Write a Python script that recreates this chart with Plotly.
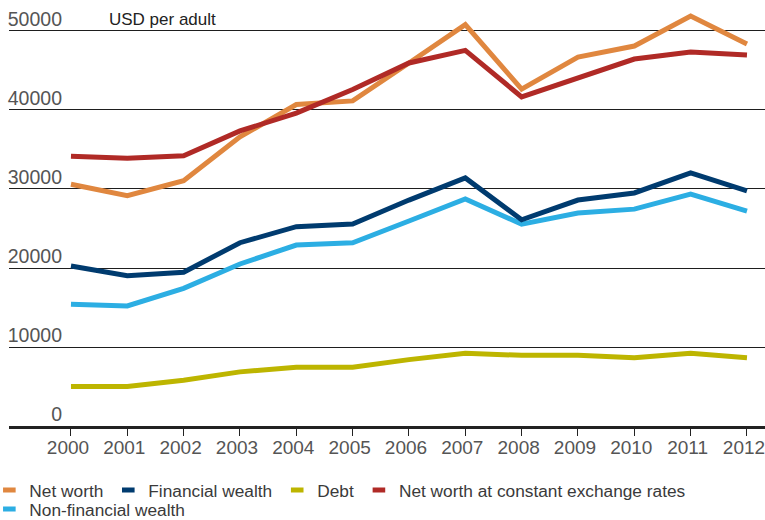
import plotly.graph_objects as go

years = list(range(2000, 2013))
net_worth = [30600, 29150, 31050, 36600, 40700, 41150, 45950, 50800, 42650, 46700, 48100, 51900, 48350]
net_worth_const = [34150, 33900, 34200, 37350, 39600, 42600, 45950, 47550, 41650, 44050, 46450, 47350, 46950]
financial = [20250, 19030, 19460, 23200, 25230, 25570, 28600, 31400, 26100, 28600, 29500, 32050, 29750]
non_financial = [15400, 15190, 17430, 20510, 22910, 23200, 25950, 28750, 25550, 26950, 27450, 29350, 27200]
debt = [5000, 5000, 5800, 6850, 7450, 7450, 8400, 9200, 8950, 8950, 8650, 9200, 8650]
y_ticks = [0, 10000, 20000, 30000, 40000, 50000]

C_NET = "#E0873F"
C_FIN = "#003B6F"
C_DEBT = "#BDB500"
C_CONST = "#B02A26"
C_NONFIN = "#2CAEE3"

legend_items = [
    ("Net worth", C_NET, "legend"),
    ("Financial wealth", C_FIN, "legend"),
    ("Debt", C_DEBT, "legend"),
    ("Net worth at constant exchange rates", C_CONST, "legend"),
    ("Non-financial wealth", C_NONFIN, "legend2"),
]

fig = go.Figure()

# legend-only entries (short dash symbols)
for name, col, lg in legend_items:
    fig.add_trace(go.Scatter(
        x=[None], y=[None], mode="markers", name=name, legend=lg,
        marker=dict(symbol="line-ew", size=9, color=col, line=dict(width=5, color=col)),
        showlegend=True, hoverinfo="skip"))

series = [
    (debt, C_DEBT),
    (non_financial, C_NONFIN),
    (financial, C_FIN),
    (net_worth, C_NET),
    (net_worth_const, C_CONST),
]
for vals, col in series:
    fig.add_trace(go.Scatter(
        x=years, y=vals, mode="lines", showlegend=False,
        line=dict(color=col, width=5)))

FONT = "Liberation Sans, Arial, sans-serif"
LEG_FONT = dict(family=FONT, size=17.3, color="#3a3a3a")
TICK_FONT = dict(family=FONT, size=19, color="#555555")

fig.update_layout(
    width=765, height=520,
    margin=dict(l=9, r=0, t=5, b=94, autoexpand=False),
    paper_bgcolor="white", plot_bgcolor="white",
    font=dict(family=FONT, size=17, color="#444444"),
    showlegend=True,
    legend=dict(orientation="h", x=-0.026, xanchor="left", y=-0.11, yanchor="top",
                font=LEG_FONT, bgcolor="rgba(0,0,0,0)", itemwidth=30),
    legend2=dict(orientation="h", x=-0.026, xanchor="left", y=-0.155, yanchor="top",
                 font=LEG_FONT, bgcolor="rgba(0,0,0,0)", itemwidth=30),
    xaxis=dict(
        range=[1998.9, 2012.32], tickvals=years, ticktext=[str(y) for y in years],
        showgrid=False, zeroline=False,
        showline=True, linecolor="#222222", linewidth=3,
        ticks="outside", ticklen=7, tickwidth=1.2, tickcolor="#222222",
        ticklabelstandoff=-5, ticklabelshift=-3, ticklabeloverflow="allow",
        tickfont=TICK_FONT,
        fixedrange=True),
    yaxis=dict(
        range=[0, 53290], tickvals=y_ticks, ticktext=[str(v) for v in y_ticks],
        showgrid=True, gridcolor="#1e1e1e", gridwidth=1.3,
        zeroline=False, showline=False, ticks="",
        ticklabelposition="outside top", ticklabelstandoff=-54, ticklabelshift=2,
        ticklabeloverflow="allow",
        tickfont=dict(family=FONT, size=19.5, color="#555555"),
        automargin=False, fixedrange=True),
    annotations=[dict(text="USD per adult", xref="paper", yref="paper",
                      x=0.1296, y=0.9667, xanchor="left", yanchor="middle",
                      showarrow=False, font=dict(family=FONT, size=17, color="#222222"))],
)

fig.write_html("out.html", config={"displayModeBar": False},
               post_script="document.body.style.margin='0';")
